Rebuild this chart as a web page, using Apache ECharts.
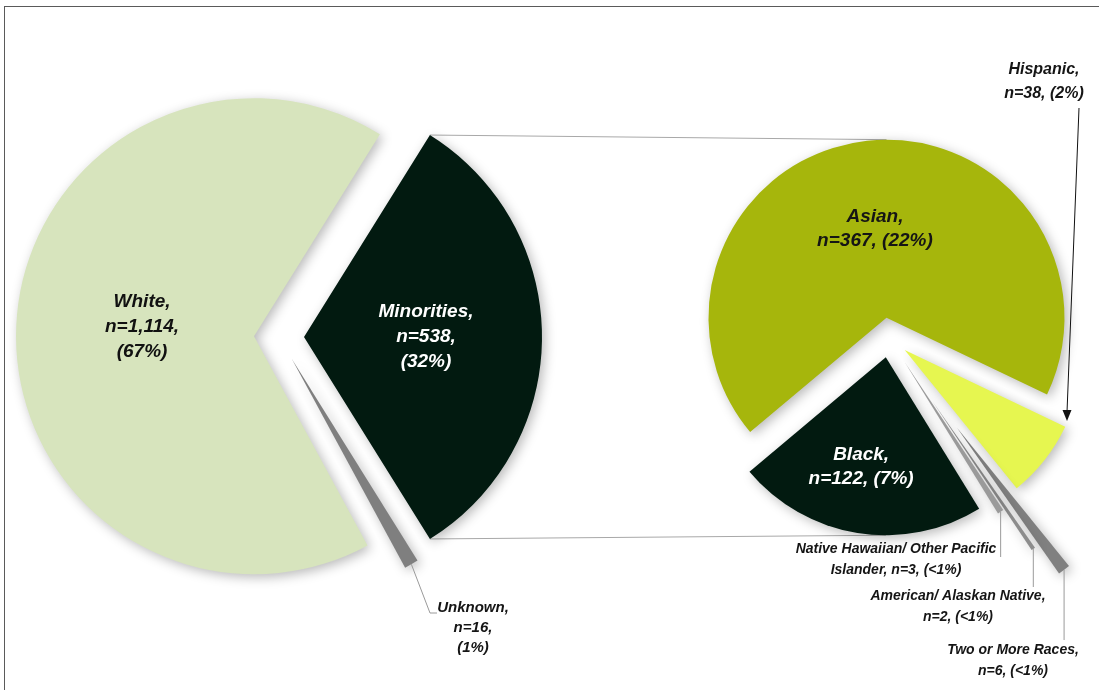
<!DOCTYPE html>
<html><head><meta charset="utf-8">
<script src="https://cdn.jsdelivr.net/npm/echarts@6/dist/echarts.min.js"></script>
<style>
html,body{margin:0;padding:0;background:#fff;overflow:hidden}
#frame{position:absolute;left:4px;top:6px;width:1200px;height:800px;border-left:1px solid #5a5a5a;border-top:1px solid #5a5a5a}
#chart{position:absolute;left:0;top:0;width:1099px;height:690px}
</style>
</head><body><div id="frame"></div><div id="chart"></div>
<script>
// ---- data ----
const leftNames  = ['Minorities', 'Unknown', 'White'];
const leftValues = [538, 16, 1114];
const leftPct    = ['32%', '1%', '67%'];

const rightNames  = ['Asian', 'Hispanic', 'Two or More Races', 'American/ Alaskan Native', 'Native Hawaiian/ Other Pacific\nIslander', 'Black'];
const rightValues = [367, 38, 6, 2, 3, 122];
const rightPct    = ['22%', '2%', '<1%', '<1%', '<1%', '7%'];

// ---- layout / style ----
const L = { c: [279, 337], r: 238, start: 58.06, explode: 25 };
const R = { c: [889, 337.5], r: 178, start: 220 };
const rightExplode = [20, 20, 113, 78, 29, 20];
const leftColors  = ['#021a10', '#7f7f7f', '#d7e4bd'];
const rightColors = ['#a6b60c', '#e6f650', '#808080', '#8c8c8c', '#9a9a9a', '#021a10'];
const FONTFAM = "'Liberation Sans', Arial, sans-serif";
const shadow = { shadowBlur: 12, shadowColor: 'rgba(0,0,0,0.28)', shadowOffsetX: 3, shadowOffsetY: 3, borderWidth: 0 };

function angles(values, start) {
  const sum = values.reduce((a, b) => a + b, 0);
  let a = start;
  return values.map(v => { const s = a; const e = a - v / sum * 360; a = e; return { s, e, m: (s + e) / 2 }; });
}
function pt(c, deg, d) { const r = deg * Math.PI / 180; return [c[0] + d * Math.cos(r), c[1] - d * Math.sin(r)]; }
const fmt = v => v.toLocaleString('en-US');

const la = angles(leftValues, L.start);
const ra = angles(rightValues, R.start);

const leftLabel = (i) => `${leftNames[i]},\nn=${fmt(leftValues[i])},\n(${leftPct[i]})`;
const rightLabel = (i) => rightNames[i].includes('\n')
  ? `${rightNames[i]}, n=${fmt(rightValues[i])}, (${rightPct[i]})`
  : `${rightNames[i]},\nn=${fmt(rightValues[i])}, (${rightPct[i]})`;

const baseText = { fontFamily: FONTFAM, fontStyle: 'italic', fontWeight: 'bold' };

// inside-label nudges
const leftInside = { 0: [0, 0], 2: [10, -6] };
const rightInside = { 0: [0, 2], 5: [-10, 19] };

// ---- left pie ----
const leftSeries = {
  type: 'pie', center: L.c, radius: L.r, startAngle: L.start, clockwise: true,
  selectedMode: 'multiple', selectedOffset: L.explode, avoidLabelOverlap: false,
  silent: true, animation: false,
  data: leftNames.map((n, i) => ({
    name: n, value: leftValues[i], selected: true,
    itemStyle: Object.assign({ color: leftColors[i] }, shadow),
    label: leftInside[i] ? Object.assign({
      show: true, position: 'inside',
      formatter: () => leftLabel(i),
      color: i === 0 ? '#ffffff' : '#111111',
      fontSize: 19, lineHeight: 25, align: 'center'
    }, baseText) : { show: false },
    labelLine: { show: false }
  })),
  labelLayout: (p) => {
    const d = leftInside[p.dataIndex];
    return d ? { dx: d[0], dy: d[1] } : {};
  }
};

// ---- right pie (one series per explosion distance) ----
const groups = [...new Set(rightExplode)];
const rightSeries = groups.map(off => ({
  type: 'pie', center: R.c, radius: R.r, startAngle: R.start, clockwise: true,
  selectedMode: 'multiple', selectedOffset: off, avoidLabelOverlap: false,
  silent: true, animation: false,
  data: rightNames.map((n, i) => {
    const vis = rightExplode[i] === off;
    const inside = !!rightInside[i];
    return {
      name: n, value: rightValues[i], selected: true,
      itemStyle: vis ? Object.assign({ color: rightColors[i] }, shadow) : { color: 'rgba(0,0,0,0)', borderWidth: 0 },
      label: (vis && inside) ? Object.assign({
        show: true, position: 'inside',
        formatter: () => rightLabel(i),
        color: i === 5 ? '#ffffff' : '#151515',
        fontSize: 19, lineHeight: 24, align: 'center'
      }, baseText) : { show: false },
      labelLine: { show: false }
    };
  }),
  labelLayout: (p) => {
    const d = rightInside[p.dataIndex];
    return d ? { dx: d[0], dy: d[1] } : {};
  }
}));

// ---- callout labels (outside) ----
const font = (sz) => `italic bold ${sz}px ${FONTFAM}`;
const graphic = [];
function callout(text, x, y, size, lh, points, lineColor) {
  graphic.push({ type: 'polyline', z: 50, shape: { points: points }, style: { stroke: lineColor, lineWidth: 1, fill: null } });
  graphic.push({ type: 'text', z: 60, x: x, y: y,
    style: { text: text, font: font(size), lineHeight: lh, fill: '#151515', textAlign: 'center', textVerticalAlign: 'middle' } });
}
// Unknown
{
  const tip = pt(L.c, la[1].m, L.explode + L.r);
  callout(leftLabel(1), 473, 628, 15, 20, [tip, [430, 613], [437, 613]], '#9a9a9a');
}
// Hispanic (arrow)
callout(rightLabel(1), 1044, 82, 16, 24, [[1079, 108], [1067, 412]], '#111111');
graphic.push({ type: 'polygon', z: 100, shape: { points: [[1067, 421], [1062.5, 410], [1071.5, 410]] }, style: { fill: '#111111' } });
// thin slices
const thin = { 2: [1013, 661, 640], 3: [958, 607, 587], 4: [896, 560, 557] };
Object.keys(thin).forEach(k => {
  const i = +k, t = thin[k];
  const tip = pt(R.c, ra[i].m, rightExplode[i] + R.r);
  callout(rightLabel(i), t[0], t[1], 14, 21, [tip, [tip[0], t[2]]], '#9a9a9a');
});

// ---- connector lines between the two pies ----
const minC = pt(L.c, la[0].m, L.explode);
const minTop = pt(minC, la[0].s, L.r);
const minBot = pt(minC, la[0].e, L.r);
const asianC = pt(R.c, ra[0].m, rightExplode[0]);
const blackC = pt(R.c, ra[5].m, rightExplode[5]);
const rTop = [asianC[0], asianC[1] - R.r];
const rBot = [blackC[0], blackC[1] + R.r];
graphic.push({ type: 'line', z: -10, shape: { x1: minTop[0], y1: minTop[1], x2: rTop[0], y2: rTop[1] }, style: { stroke: '#a8a8a8', lineWidth: 1 } });
graphic.push({ type: 'line', z: -10, shape: { x1: minBot[0], y1: minBot[1], x2: rBot[0], y2: rBot[1] }, style: { stroke: '#a8a8a8', lineWidth: 1 } });

const chart = echarts.init(document.getElementById('chart'), null, { renderer: 'canvas' });
chart.setOption({
  animation: false,
  backgroundColor: 'transparent',
  graphic: graphic,
  series: [leftSeries].concat(rightSeries)
});
</script>
</body></html>
